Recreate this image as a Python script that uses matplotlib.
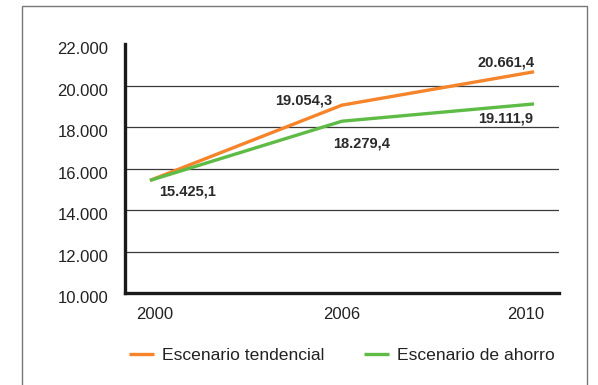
import matplotlib
matplotlib.use("Agg")
import matplotlib.pyplot as plt
import matplotlib.transforms as mtransforms
from matplotlib.patches import Rectangle

years = ["2000", "2006", "2010"]
tendencial = [15425.1, 19054.3, 20661.4]
ahorro = [15425.1, 18279.4, 19111.9]
yticks = [10000, 12000, 14000, 16000, 18000, 20000, 22000]
ytick_labels = ["10.000", "12.000", "14.000", "16.000", "18.000", "20.000", "22.000"]
series_names = ["Escenario tendencial", "Escenario de ahorro"]

plt.rcParams['font.family'] = ['Liberation Sans', 'DejaVu Sans']

orange = "#F5842A"
green = "#5DBB46"
W, H = 598, 385
fig = plt.figure(figsize=(W/100, H/100), dpi=100)
ax = fig.add_axes([125/W, (H-293)/H, (559-125)/W, (293-44)/H])

x = list(range(len(years)))
ax.plot(x, tendencial, color=orange, lw=2.4, solid_capstyle='butt', zorder=3, label=series_names[0])
ax.plot(x, ahorro, color=green, lw=2.4, solid_capstyle='butt', zorder=3, label=series_names[1])

ax.set_xlim(-0.13, 2.13)
ax.set_ylim(yticks[0], yticks[-1])
for t in yticks[1:-1]:
    ax.axhline(t, color="#3a3a3a", lw=0.9, zorder=1)

ax.set_yticks(yticks)
ax.set_yticklabels(ytick_labels)
ax.set_xticks(x)
ax.set_xticklabels(years)
ax.tick_params(length=0, labelsize=12, colors="#222222")
ax.tick_params(axis='y', pad=12)
ax.tick_params(axis='x', pad=10)
shift = mtransforms.ScaledTranslation(0, -4/100, fig.dpi_scale_trans)
for lbl in ax.get_yticklabels():
    lbl.set_transform(lbl.get_transform() + shift)
xshifts = [5, 0, -8]
for lbl, dx in zip(ax.get_xticklabels(), xshifts):
    lbl.set_transform(lbl.get_transform() + mtransforms.ScaledTranslation(dx/100, 0, fig.dpi_scale_trans))

for s in ["top", "right"]:
    ax.spines[s].set_visible(False)
for s in ["left", "bottom"]:
    ax.spines[s].set_linewidth(2.4)
    ax.spines[s].set_color("#1a1a1a")

def lab(xv, yv, dx, dy):
    txt = f"{yv:,.1f}".replace(",", "X").replace(".", ",").replace("X", ".")
    ax.annotate(txt, (xv, yv), xytext=(dx, dy), textcoords='offset pixels',
                ha='center', va='center', fontsize=10.5, fontweight='bold', color="#2a2a2a")

lab(0, tendencial[0], 38, -11)
lab(1, tendencial[1], -38, 5)
lab(1, ahorro[1], 20, -22)
lab(2, tendencial[2], -28, 9)
lab(2, ahorro[2], -28, -15)

leg = fig.legend(loc='center left', bbox_to_anchor=(129/W, (H-355)/H), ncol=2, frameon=False,
                 fontsize=12.6, handlelength=1.43, handletextpad=0.45, columnspacing=2.25,
                 borderpad=0, borderaxespad=0, labelcolor="#222222")

fig.patches.append(Rectangle((22/W, -0.1), (587-22)/W, 1.1 - 6/H, transform=fig.transFigure,
                             fill=False, edgecolor="#777777", lw=1.0))

fig.savefig("out.png", dpi=100)
